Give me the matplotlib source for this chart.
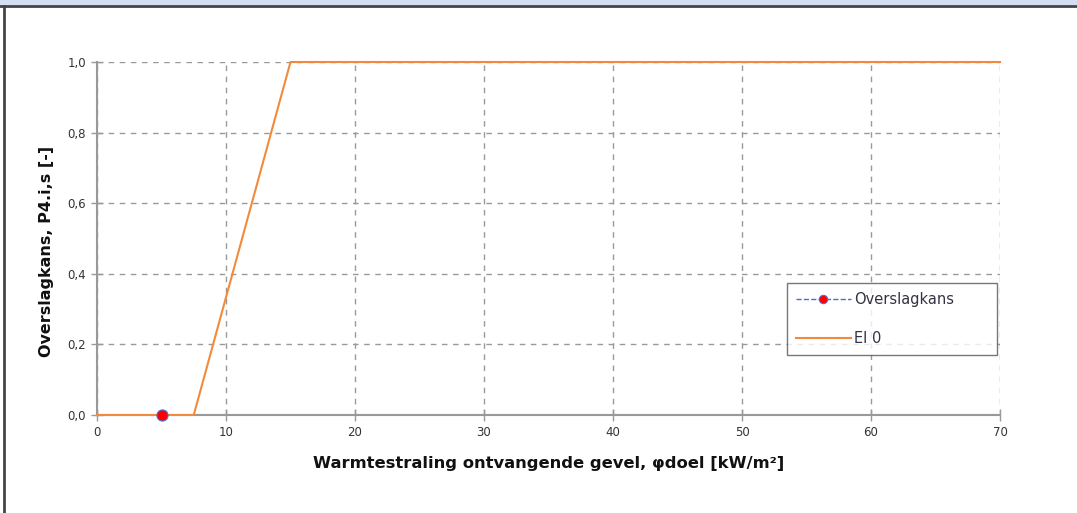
import matplotlib.pyplot as plt
from matplotlib.ticker import FuncFormatter
from matplotlib.patches import Rectangle
from matplotlib.lines import Line2D

# chart data
ei_x = [0, 7.5, 15, 70]
ei_y = [0, 0, 1, 1]
point_x = [5]
point_y = [0]
x_ticks = [0, 10, 20, 30, 40, 50, 60, 70]
y_ticks = [0.0, 0.2, 0.4, 0.6, 0.8, 1.0]

plt.rcParams['font.family'] = ['DejaVu Sans']

fig = plt.figure(figsize=(10.77, 5.13), dpi=100)

# window header strip and left border
fig.patches.append(Rectangle((0, 1 - 5 / 513), 1, 5 / 513, transform=fig.transFigure,
                             facecolor='#d5ddf0', edgecolor='none', zorder=0))
fig.add_artist(Line2D([0, 1], [1 - 6 / 513, 1 - 6 / 513], transform=fig.transFigure,
                      color='#444444', lw=2))
fig.add_artist(Line2D([4 / 1077, 4 / 1077], [0, 1 - 6 / 513], transform=fig.transFigure,
                      color='#444444', lw=2))

ax = fig.add_axes([97 / 1077, 1 - 415 / 513, 903 / 1077, 353 / 513])

ax.plot(point_x, point_y, color='#4472c4', ls='--', lw=1, marker='o', ms=8,
        mfc='red', mec='#4a6fd8', mew=0.8, label='Overslagkans', zorder=4, clip_on=False)
ax.plot(ei_x, ei_y, color='#f28a3c', lw=1.5, label='EI 0', zorder=3, clip_on=False)

ax.set_xlim(0, 70)
ax.set_ylim(0, 1)
ax.set_xticks(x_ticks)
ax.set_yticks(y_ticks)
ax.yaxis.set_major_formatter(FuncFormatter(lambda v, p: f'{v:.1f}'.replace('.', ',')))
ax.tick_params(direction='inout', length=8, width=1, color='#999999',
               labelsize=8.5, labelcolor='#333333', pad=4)

for s in ['top', 'right']:
    ax.spines[s].set_visible(False)
for s in ['left', 'bottom']:
    ax.spines[s].set_color('#999999')
    ax.spines[s].set_linewidth(1.5)

ax.grid(True, ls=(0, (4, 4)), color='#999999', lw=1)
ax.set_axisbelow(True)

ax.set_xlabel('Warmtestraling ontvangende gevel, φdoel [kW/m²]', fontsize=11.8,
              fontweight='bold', color='#111111', labelpad=12)
ax.set_ylabel('Overslagkans, P4.i,s [-]', fontsize=11.5, fontweight='bold',
              color='#111111')
ax.yaxis.set_label_coords(-0.048, 0.462)

leg = ax.legend(loc='lower left', bbox_to_anchor=(0.764, 0.170, 0.233, 0.204),
                mode='expand', fontsize=10.5, frameon=True, fancybox=False,
                borderpad=0.6, labelspacing=1.65, handlelength=3.8, handletextpad=0.2,
                borderaxespad=0, markerscale=0.75)
leg.get_frame().set_edgecolor('#555555')
leg.get_frame().set_linewidth(1)
for t in leg.get_texts():
    t.set_color('#333344')

fig.savefig('out.png', dpi=100)
